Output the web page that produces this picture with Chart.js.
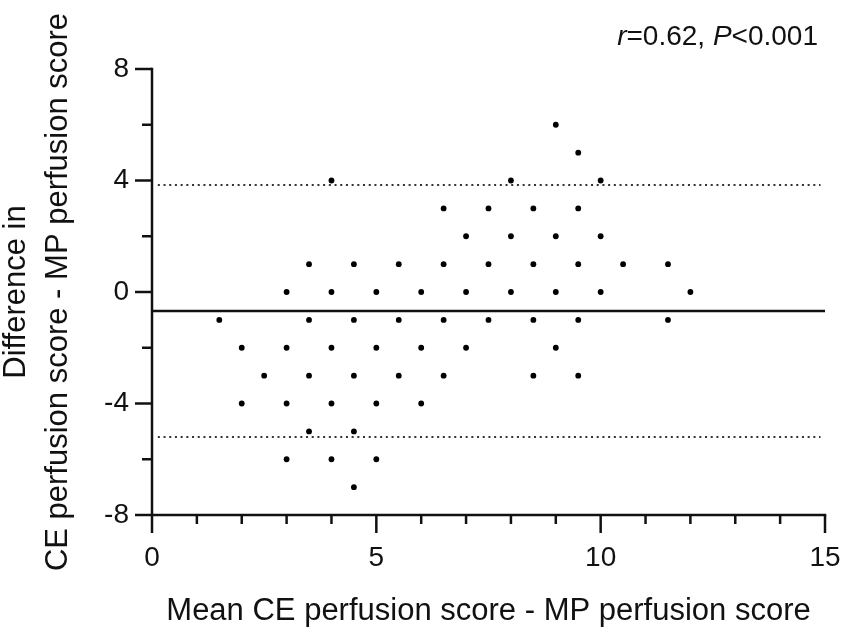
<!DOCTYPE html>
<html>
<head>
<meta charset="utf-8">
<script src="https://cdn.jsdelivr.net/npm/chart.js@4.4.1/dist/chart.umd.min.js"></script>
<style>
  html, body { margin: 0; padding: 0; background: #fff; }
  #wrap { width: 851px; height: 641px; }
</style>
</head>
<body>
<div id="wrap"><canvas id="c" width="851" height="641"></canvas></div>
<script>
// Bland–Altman points: mean score (x) and difference (y)
const meanScore = [
  9,
  9.5,
  4, 8, 10,
  6.5, 7.5, 8.5, 9.5,
  7, 8, 9, 10,
  3.5, 4.5, 5.5, 6.5, 7.5, 8.5, 9.5, 10.5, 11.5,
  3, 4, 5, 6, 7, 8, 9, 10, 12,
  1.5, 3.5, 4.5, 5.5, 6.5, 7.5, 8.5, 9.5, 11.5,
  2, 3, 4, 5, 6, 7, 9,
  2.5, 3.5, 4.5, 5.5, 6.5, 8.5, 9.5,
  2, 3, 4, 5, 6,
  3.5, 4.5,
  3, 4, 5,
  4.5
];
const diffScore = [
  6,
  5,
  4, 4, 4,
  3, 3, 3, 3,
  2, 2, 2, 2,
  1, 1, 1, 1, 1, 1, 1, 1, 1,
  0, 0, 0, 0, 0, 0, 0, 0, 0,
  -1, -1, -1, -1, -1, -1, -1, -1, -1,
  -2, -2, -2, -2, -2, -2, -2,
  -3, -3, -3, -3, -3, -3, -3,
  -4, -4, -4, -4, -4,
  -5, -5,
  -6, -6, -6,
  -7
];
const biasMean = -0.68;
const upperLoA = 3.84;
const lowerLoA = -5.2;
const xRange = [0, 15];
const yRange = [-8, 8];
const xMajorTicks = [0, 5, 10, 15];
const yMajorTicks = [-8, -4, 0, 4, 8];
const xTitle = 'Mean CE perfusion score - MP perfusion score';
const yTitle = ['Difference in', 'CE perfusion score - MP perfusion score'];
const statText = [['r', true], ['=0.62, ', false], ['P', true], ['<0.001', false]];

const points = meanScore.map((x, i) => ({ x: x, y: diffScore[i] }));
const FONT = "'Liberation Sans', Arial, sans-serif";

const axesPlugin = {
  id: 'axesPlugin',
  afterDraw(chart) {
    const ctx = chart.ctx;
    const xs = chart.scales.x, ys = chart.scales.y;
    const x0 = xs.getPixelForValue(xRange[0]);
    const x1 = xs.getPixelForValue(xRange[1]);
    const yTop = ys.getPixelForValue(yRange[1]);
    const yBot = ys.getPixelForValue(yRange[0]);
    ctx.save();
    ctx.strokeStyle = '#111';
    ctx.lineWidth = 2.5;
    ctx.lineCap = 'butt';
    // y axis
    ctx.beginPath();
    ctx.moveTo(x0, yTop - 1.25);
    ctx.lineTo(x0, yBot);
    ctx.stroke();
    // x axis
    ctx.beginPath();
    ctx.moveTo(x0, yBot);
    ctx.lineTo(x1 + 1.25, yBot);
    ctx.stroke();
    // x ticks
    for (let v = xRange[0]; v <= xRange[1]; v += 1) {
      const px = xs.getPixelForValue(v);
      const len = xMajorTicks.includes(v) ? 18 : 9;
      ctx.beginPath();
      ctx.moveTo(px, yBot);
      ctx.lineTo(px, yBot + len);
      ctx.stroke();
    }
    // y ticks
    for (let v = yRange[0]; v <= yRange[1]; v += 2) {
      const py = ys.getPixelForValue(v);
      const len = yMajorTicks.includes(v) ? 17 : 10;
      ctx.beginPath();
      ctx.moveTo(x0, py);
      ctx.lineTo(x0 - len, py);
      ctx.stroke();
    }
    // statistic annotation
    const size = 28;
    let total = 0;
    const parts = statText.map(([t, it]) => {
      ctx.font = (it ? 'italic ' : '') + size + 'px ' + FONT;
      const w = ctx.measureText(t).width;
      total += w;
      return [t, it, w];
    });
    let cx = 818 - total;
    ctx.fillStyle = '#111';
    ctx.textBaseline = 'alphabetic';
    ctx.textAlign = 'left';
    parts.forEach(([t, it, w]) => {
      ctx.font = (it ? 'italic ' : '') + size + 'px ' + FONT;
      ctx.fillText(t, cx, 45);
      cx += w;
    });
    ctx.restore();
  }
};

new Chart(document.getElementById('c'), {
  type: 'scatter',
  data: {
    datasets: [
      {
        label: 'Differences',
        data: points,
        pointRadius: 2.9,
        pointHoverRadius: 2.9,
        pointBackgroundColor: '#000',
        pointBorderWidth: 0,
        order: 1
      },
      {
        type: 'line',
        label: 'Mean',
        data: [{ x: xRange[0], y: biasMean }, { x: xRange[1], y: biasMean }],
        borderColor: '#111',
        borderWidth: 2.6,
        pointRadius: 0,
        order: 2
      },
      {
        type: 'line',
        label: 'Upper LoA',
        data: [{ x: 0.13, y: upperLoA }, { x: 14.9, y: upperLoA }],
        borderColor: '#333',
        borderWidth: 2,
        borderDash: [2, 3.7],
        pointRadius: 0,
        order: 3
      },
      {
        type: 'line',
        label: 'Lower LoA',
        data: [{ x: 0.13, y: lowerLoA }, { x: 14.9, y: lowerLoA }],
        borderColor: '#333',
        borderWidth: 2,
        borderDash: [2, 3.7],
        pointRadius: 0,
        order: 3
      }
    ]
  },
  options: {
    responsive: false,
    animation: false,
    devicePixelRatio: 1,
    layout: { padding: { top: 69, right: 26, left: 0, bottom: 0 } },
    plugins: {
      legend: { display: false },
      tooltip: { enabled: false }
    },
    scales: {
      x: {
        type: 'linear',
        min: xRange[0],
        max: xRange[1],
        grid: { display: false, drawTicks: false },
        border: { display: false },
        ticks: {
          stepSize: 1,
          autoSkip: false,
          maxRotation: 0,
          padding: 26,
          color: '#111',
          font: { family: FONT, size: 28 },
          callback: v => (xMajorTicks.includes(v) ? String(v) : '')
        },
        title: {
          display: true,
          text: xTitle,
          color: '#111',
          font: { family: FONT, size: 31 },
          padding: { top: 0, bottom: 11 }
        },
        afterFit: s => { s.height = 126; s.paddingRight = 0; s.paddingLeft = 0; }
      },
      y: {
        type: 'linear',
        min: yRange[0],
        max: yRange[1],
        grid: { display: false, drawTicks: false },
        border: { display: false },
        ticks: {
          stepSize: 2,
          autoSkip: false,
          padding: 23,
          color: '#111',
          font: { family: FONT, size: 28 },
          callback: v => (yMajorTicks.includes(v) ? String(v) : '')
        },
        title: {
          display: true,
          text: yTitle,
          color: '#111',
          font: { family: FONT, size: 31, lineHeight: 1.35 },
          padding: { top: -4, bottom: 0 }
        },
        afterFit: s => { s.width = 152; s.paddingTop = 0; s.paddingBottom = 0; }
      }
    }
  },
  plugins: [axesPlugin]
});
</script>
</body>
</html>
